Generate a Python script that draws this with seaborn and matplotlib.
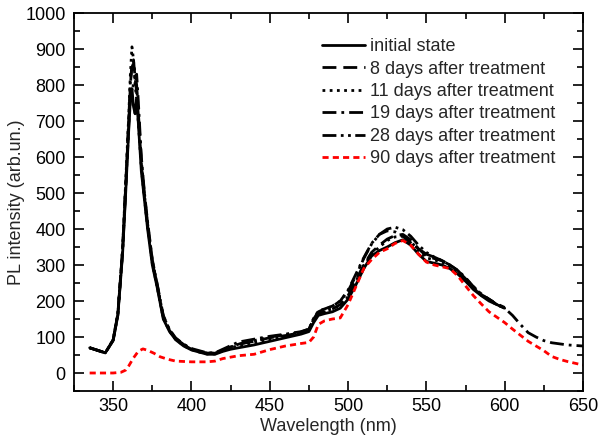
import numpy as np
import pandas as pd
import seaborn as sns
import matplotlib
matplotlib.use("Agg")
import matplotlib.pyplot as plt
from matplotlib.ticker import MultipleLocator

# ---------------- data ----------------
wl = [335, 340, 345, 350, 353, 356, 358, 360, 361, 362, 363, 364, 365, 366, 368,
      370, 372, 375, 378, 382, 386, 390, 395, 400, 405, 410, 415, 420, 425, 430,
      440, 450, 460, 470, 475, 478, 481, 485, 490, 495, 500, 505, 510, 515, 520,
      525, 530, 535, 540, 545, 550, 555, 560, 565, 570, 575, 580, 585, 590, 595, 600]

initial = [70, 63, 56, 90, 160, 330, 500, 680, 760, 790, 740, 720, 760, 700, 560,
           480, 400, 300, 240, 150, 115, 92, 75, 64, 58, 52, 52, 60, 66, 70,
           78, 88, 98, 108, 115, 140, 160, 165, 170, 180, 205, 245, 290, 325, 340,
           350, 362, 370, 355, 330, 310, 305, 300, 290, 275, 255, 232, 215, 200, 190, 180]

days8 = [70, 63, 56, 92, 165, 340, 520, 700, 800, 860, 870, 820, 780, 720, 580,
         490, 410, 310, 245, 155, 118, 95, 78, 66, 60, 55, 55, 64, 72, 80,
         88, 98, 104, 112, 120, 148, 165, 170, 178, 190, 215, 258, 300, 335, 355,
         372, 382, 385, 370, 345, 325, 318, 312, 300, 285, 262, 238, 218, 205, 192, 182]

days11 = [70, 63, 56, 92, 165, 345, 530, 720, 830, 906, 870, 800, 760, 700, 570,
          485, 405, 305, 242, 152, 116, 93, 76, 65, 58, 53, 53, 62, 70, 76,
          84, 94, 102, 110, 118, 150, 168, 172, 178, 188, 212, 255, 298, 330, 350,
          368, 378, 380, 366, 340, 320, 314, 308, 296, 282, 260, 236, 216, 203, 190, 180]

days19 = [70, 63, 56, 92, 162, 335, 510, 690, 760, 790, 800, 820, 830, 760, 600,
          500, 420, 315, 250, 160, 120, 97, 80, 68, 62, 56, 56, 66, 76, 86,
          94, 102, 108, 115, 122, 150, 170, 178, 185, 200, 230, 275, 320, 360, 385,
          395, 392, 380, 362, 345, 330, 322, 312, 300, 285, 265, 240, 220, 205, 190, 180]
wl19_tail = [605, 610, 615, 620, 625, 630, 640, 650]
days19_tail = [160, 135, 112, 100, 90, 84, 78, 75]

days28 = [70, 63, 56, 92, 165, 340, 520, 710, 810, 850, 860, 830, 800, 730, 590,
          495, 415, 312, 248, 158, 120, 96, 79, 67, 60, 55, 55, 64, 72, 80,
          90, 100, 106, 114, 122, 152, 172, 178, 186, 200, 228, 270, 318, 358, 385,
          400, 405, 398, 380, 355, 335, 322, 312, 300, 284, 262, 240, 218, 204, 190, 180]

wl90 = [335, 340, 345, 350, 355, 358, 360, 363, 366, 369, 372, 376, 380, 385, 390,
        395, 400, 405, 410, 415, 420, 425, 430, 440, 450, 460, 470, 475, 478, 481,
        485, 490, 495, 500, 505, 510, 515, 520, 525, 530, 535, 540, 545, 550, 555,
        560, 565, 570, 575, 580, 585, 590, 595, 600, 605, 610, 615, 620, 625, 630,
        635, 640, 645, 650]
days90 = [0, 0, 0, 0, 2, 8, 20, 42, 60, 67, 63, 55, 45, 38, 33,
          32, 31, 31, 31, 33, 40, 44, 48, 52, 65, 75, 82, 85, 100, 135,
          145, 150, 153, 190, 240, 290, 315, 335, 345, 360, 368, 355, 330, 308, 300,
          295, 290, 270, 242, 215, 192, 170, 155, 140, 122, 105, 88, 75, 62, 46,
          38, 32, 27, 22]

labels = ["initial state", "8 days after treatment", "11 days after treatment",
          "19 days after treatment", "28 days after treatment", "90 days after treatment"]

# ---------------- plotting ----------------
sns.set_theme(style="ticks")
plt.rcParams["font.family"] = ["Liberation Sans", "DejaVu Sans"]
plt.rcParams["font.size"] = 13

fig = plt.figure(figsize=(5.98, 4.45), dpi=100)
ax = fig.add_axes([74 / 598, 1 - 391 / 445, (583 - 74) / 598, (391 - 13) / 445])

lw = 2.0
series = [
    (wl, initial, "black", "-", None),
    (wl, days8, "black", "--", (5, 2.5)),
    (wl, days11, "black", ":", (1, 1.6)),
    (wl + wl19_tail, days19 + days19_tail, "black", "-.", (5, 1.8, 1, 1.8)),
    (wl, days28, "black", "-.", (5, 1.6, 1, 1.6, 1, 1.6)),
    (wl90, days90, "red", "--", (2.2, 1.5)),
]
for (x, y, c, ls, dash), lab in zip(series, labels):
    sns.lineplot(x=x, y=y, ax=ax, color=c, linewidth=lw, label=lab,
                 estimator=None, sort=False)
    l = ax.lines[-1]
    if dash is not None:
        l.set_dashes(dash)

ax.set_xlim(325, 650)
ax.set_ylim(-50, 1000)
ax.xaxis.set_major_locator(MultipleLocator(50))
ax.xaxis.set_minor_locator(MultipleLocator(25))
ax.yaxis.set_major_locator(MultipleLocator(100))
ax.yaxis.set_minor_locator(MultipleLocator(50))
ax.tick_params(which="both", direction="in", top=True, right=True, color="black",
               labelsize=13, labelcolor="black")
ax.tick_params(which="major", length=7, width=1.2)
ax.tick_params(which="minor", length=4, width=1.2)
ax.tick_params(axis="x", pad=5)
ax.tick_params(axis="y", pad=6)
for s in ax.spines.values():
    s.set_color("black")
    s.set_linewidth(1.3)
ax.set_xlabel("Wavelength (nm)", fontsize=13, labelpad=2)
ax.set_ylabel("PL intensity (arb.un.)", fontsize=13, labelpad=0)

leg = ax.legend(loc="upper left", bbox_to_anchor=(0.465, 0.962), frameon=False,
                fontsize=13, handlelength=2.4, handletextpad=0.3, labelspacing=0.3,
                borderaxespad=0.2)

fig.savefig("out.png", dpi=100)
